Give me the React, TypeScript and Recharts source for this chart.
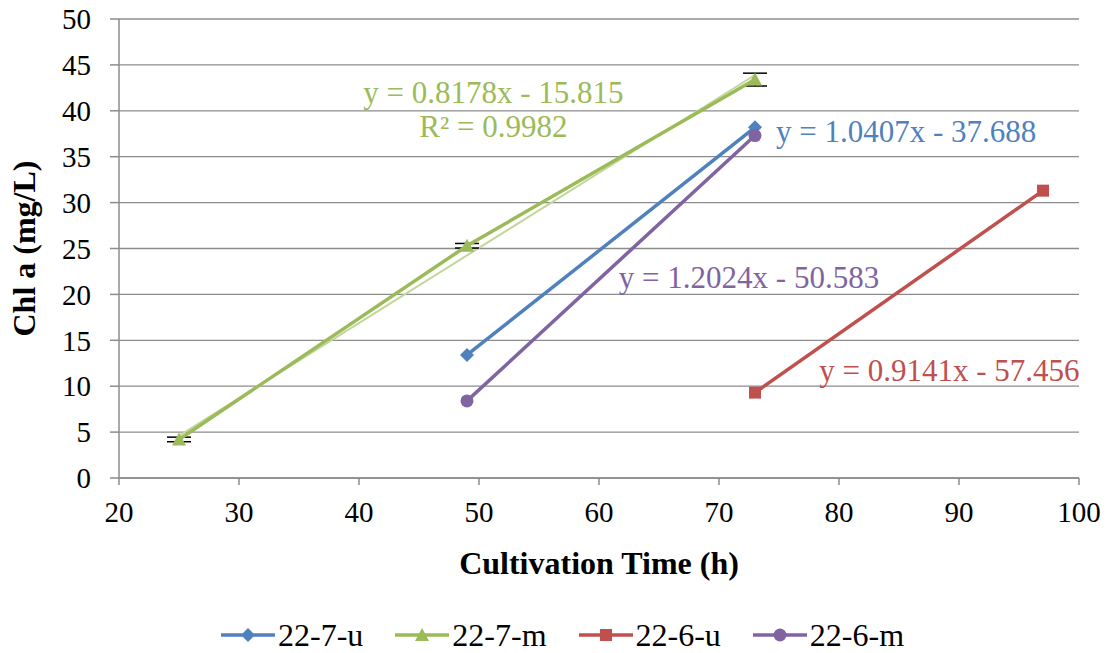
import React from "react";
import {
  LineChart,
  Line,
  XAxis,
  YAxis,
  CartesianGrid,
  ReferenceDot,
  ErrorBar,
} from "recharts";

const u7 = [
  { x: 49, y: 13.4 },
  { x: 73, y: 38.2 },
];
const m7 = [
  { x: 25, y: 4.2, err: 0.25 },
  { x: 49, y: 25.3, err: 0.25 },
  { x: 73, y: 43.4, err: 0.7 },
];
const m7Trend = [
  { x: 25, y: 4.6 },
  { x: 73, y: 43.9 },
];
const u6 = [
  { x: 73, y: 9.3 },
  { x: 97, y: 31.3 },
];
const m6 = [
  { x: 49, y: 8.4 },
  { x: 73, y: 37.3 },
];

const xTicks = [20, 30, 40, 50, 60, 70, 80, 90, 100];
const yTicks = [0, 5, 10, 15, 20, 25, 30, 35, 40, 45, 50];

const BLUE = "#4F81BD";
const GREEN = "#9BBB59";
const RED = "#C0504D";
const PURPLE = "#8064A2";

const equations = [
  { x: 51.2, y: 41.9, text: "y = 0.8178x - 15.815", color: GREEN, anchor: "middle" },
  { x: 51.2, y: 38.2, text: "R² = 0.9982", color: GREEN, anchor: "middle" },
  { x: 74.75, y: 37.7, text: "y = 1.0407x - 37.688", color: BLUE, anchor: "start" },
  { x: 72.5, y: 21.8, text: "y = 1.2024x - 50.583", color: PURPLE, anchor: "middle" },
  { x: 89.2, y: 11.65, text: "y = 0.9141x - 57.456", color: RED, anchor: "middle" },
];

const legendItems = [
  { name: "22-7-u", color: BLUE, shape: "diamond" },
  { name: "22-7-m", color: GREEN, shape: "triangle" },
  { name: "22-6-u", color: RED, shape: "square" },
  { name: "22-6-m", color: PURPLE, shape: "circle" },
];

const FONT = "Liberation Serif, Times New Roman, serif";

function Marker({ cx, cy, shape, color }: any) {
  if (cx == null || cy == null) return null;
  if (shape === "diamond")
    return <polygon points={`${cx},${cy - 7} ${cx + 7},${cy} ${cx},${cy + 7} ${cx - 7},${cy}`} fill={color} />;
  if (shape === "triangle")
    return <polygon points={`${cx},${cy - 7} ${cx + 7},${cy + 6} ${cx - 7},${cy + 6}`} fill={color} />;
  if (shape === "square")
    return <rect x={cx - 6} y={cy - 6} width={12} height={12} fill={color} />;
  return <circle cx={cx} cy={cy} r={6.5} fill={color} />;
}

function Legend() {
  return (
    <div
      style={{
        position: "absolute",
        top: 615,
        left: 220,
        display: "flex",
        gap: 31,
        fontFamily: FONT,
        fontSize: 32,
        lineHeight: "40px",
        color: "#000",
      }}
    >
      {legendItems.map((it) => (
        <div key={it.name} style={{ display: "flex", alignItems: "center" }}>
          <svg width={56} height={20}>
            <line x1={1} y1={10} x2={55} y2={10} stroke={it.color} strokeWidth={3.5} />
            <Marker cx={28} cy={10} shape={it.shape} color={it.color} />
          </svg>
          <span style={{ marginLeft: 2 }}>{it.name}</span>
        </div>
      ))}
    </div>
  );
}

export default function App() {
  return (
    <div style={{ position: "relative", width: 1112, height: 653, background: "#fff" }}>
      <style>{"body{margin:0}"}</style>
      <LineChart
        width={1112}
        height={653}
        margin={{ top: 19, right: 33, left: 0, bottom: 75 }}
        style={{ fontFamily: FONT }}
      >
        <CartesianGrid vertical={false} stroke="#8c8c8c" strokeWidth={1.3} />
        <XAxis
          type="number"
          dataKey="x"
          domain={[20, 100]}
          ticks={xTicks}
          allowDuplicatedCategory={false}
          height={100}
          tick={{ fill: "#000", fontSize: 29, fontFamily: FONT }}
          tickSize={7}
          tickMargin={16}
          stroke="#8c8c8c"
          strokeWidth={1.5}
          label={{
            value: "Cultivation Time (h)",
            position: "insideBottom",
            offset: 4,
            style: { fill: "#000", fontSize: 32, fontWeight: "bold", fontFamily: FONT },
          }}
        />
        <YAxis
          type="number"
          domain={[0, 50]}
          ticks={yTicks}
          width={119}
          tick={{ fill: "#000", fontSize: 29, fontFamily: FONT }}
          tickSize={9}
          tickMargin={19}
          stroke="#8c8c8c"
          strokeWidth={1.5}
          label={{
            value: "Chl a (mg/L)",
            angle: -90,
            position: "insideLeft",
            offset: 24,
            style: { fill: "#000", fontSize: 32, fontWeight: "bold", fontFamily: FONT, textAnchor: "middle" },
          }}
        />
        <Line
          data={m7Trend}
          dataKey="y"
          stroke="#C3D69B"
          strokeWidth={2}
          dot={false}
          activeDot={false}
          isAnimationActive={false}
          legendType="none"
        />
        <Line
          data={m7}
          dataKey="y"
          name="22-7-m"
          stroke={GREEN}
          strokeWidth={3.5}
          dot={(p: any) => <Marker key={p.index} cx={p.cx} cy={p.cy} shape="triangle" color={GREEN} />}
          isAnimationActive={false}
        >
          <ErrorBar dataKey="err" width={12} stroke="#000" strokeWidth={1.5} direction="y" />
        </Line>
        <Line
          data={u7}
          dataKey="y"
          name="22-7-u"
          stroke={BLUE}
          strokeWidth={3.5}
          dot={(p: any) => <Marker key={p.index} cx={p.cx} cy={p.cy} shape="diamond" color={BLUE} />}
          isAnimationActive={false}
        />
        <Line
          data={u6}
          dataKey="y"
          name="22-6-u"
          stroke={RED}
          strokeWidth={3.5}
          dot={(p: any) => <Marker key={p.index} cx={p.cx} cy={p.cy} shape="square" color={RED} />}
          isAnimationActive={false}
        />
        <Line
          data={m6}
          dataKey="y"
          name="22-6-m"
          stroke={PURPLE}
          strokeWidth={3.5}
          dot={(p: any) => <Marker key={p.index} cx={p.cx} cy={p.cy} shape="circle" color={PURPLE} />}
          isAnimationActive={false}
        />
        {equations.map((e) => (
          <ReferenceDot
            key={e.text}
            x={e.x}
            y={e.y}
            r={0}
            stroke="none"
            fill="none"
            label={(props: any) => {
              const vb = props.viewBox || {};
              return (
                <text
                  x={vb.x}
                  y={vb.y}
                  dy={10}
                  textAnchor={e.anchor}
                  fill={e.color}
                  fontSize={31}
                  fontFamily={FONT}
                >
                  {e.text}
                </text>
              );
            }}
          />
        ))}
      </LineChart>
      <Legend />
    </div>
  );
}
